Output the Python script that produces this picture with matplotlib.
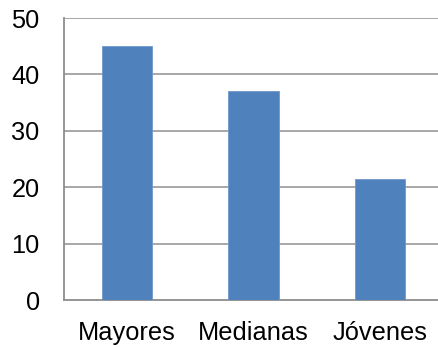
import matplotlib.pyplot as plt

categories = ["Mayores", "Medianas", "Jóvenes"]
values = [45, 37, 21.5]
yticks = [0, 10, 20, 30, 40, 50]

plt.rcParams['font.family'] = ['Liberation Sans', 'DejaVu Sans']

fig = plt.figure(figsize=(4.38, 3.47), dpi=100)
# plot area runs a little past the right edge
ax = fig.add_axes([64 / 438, 47 / 347, 379 / 438, 282 / 347])

ax.bar(range(len(categories)), values, width=0.4, color="#4F81BD",
       edgecolor="#6f98cc", linewidth=0.6, zorder=3)

ax.set_xlim(-0.5, 2.5)
ax.set_ylim(0, 50)
ax.set_yticks(yticks)
ax.set_xticks(range(len(categories)))
ax.set_xticklabels(categories)

for y in yticks[1:]:
    ax.axhline(y, color="#a0a0a0", linewidth=1.3, zorder=1)

for side in ["top", "right"]:
    ax.spines[side].set_visible(False)
for side in ["left", "bottom"]:
    ax.spines[side].set_color("#8c8c8c")
    ax.spines[side].set_linewidth(1.3)

ax.tick_params(axis="both", length=0, labelsize=18.3)
ax.tick_params(axis="y", pad=17.5)
ax.tick_params(axis="x", pad=15)

fig.savefig("out.png", dpi=100)
